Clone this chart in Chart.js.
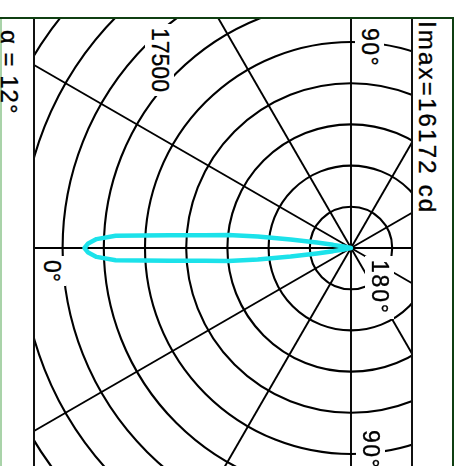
<!DOCTYPE html>
<html lang="en">
<head>
  <meta charset="UTF-8">
  <title>Imax=16172 cd</title>
  <script src="https://cdn.jsdelivr.net/npm/chart.js"></script>
  <style>
    html, body {
      margin: 0;
      padding: 0;
      width: 467px;
      height: 466px;
      overflow: hidden;
      background: #fff;
    }

    .line { position: absolute; }
    .top-line { left: 0; top: 17px; width: 454px; height: 2px; background: #0f3f12; }
    .right-line { left: 452px; top: 17px; width: 2px; height: 449px; background: #0f3f12; }
    .left-line { left: 0; top: 19px; width: 2px; height: 447px; background: #a9d3a9; }

    /* polar plot area, clipped between the two black rules */
    .plot {
      position: absolute;
      left: 33px;
      top: 19px;
      width: 376px;
      height: 447px;
      border-left: 2px solid #111;
      border-right: 2px solid #111;
      overflow: hidden;
    }

    .plot canvas {
      position: absolute;
      left: -96px;
      top: -183px;
    }

    .txt {
      position: absolute;
      writing-mode: vertical-rl;
      font-family: "Liberation Sans", Arial, sans-serif;
      font-size: 23px;
      line-height: 1;
      color: #000;
      white-space: nowrap;
      -webkit-text-stroke: 0.35px #000;
    }

    .bg { background: #fff; padding: 4px 3px; }
  </style>
</head>
<body>
<div class="line top-line"></div>
<div class="line right-line"></div>
<div class="line left-line"></div>

<div class="plot">
  <canvas id="polar" width="824" height="824"></canvas>
</div>

<div class="txt" style="left:415px; top:21px; font-size:24px; letter-spacing:2.2px;">Imax=16172 cd</div>
<div class="txt" style="left:-3px; top:30px; font-size:24px; letter-spacing:1px;">α = 12°</div>
<div class="txt bg" style="left:355px; top:24px; letter-spacing:1.5px;">90°</div>
<div class="txt bg" style="left:365px; top:256px; letter-spacing:1.8px;">180°</div>
<div class="txt bg" style="left:356px; top:426px; letter-spacing:1.5px;">90°</div>
<div class="txt bg" style="left:37px; top:256px;">0°</div>
<div class="txt bg" style="left:145px; top:24px;">17500</div>

<script>
  // intensity rings (cd)
  const ringMax = 25000;
  const ringStep = 2500;

  // luminous intensity of the lobe (degrees from 0°, cd)
  const lobeAngles = [-13, -12, -11, -10, -9, -8, -7, -6, -5, -4, -3, -2, -1, 0,
                      1, 2, 3, 4, 5, 6, 7, 8, 9, 10, 11, 12, 13];
  const lobeCd = [0, 150, 450, 1100, 2100, 3700, 5700, 7500, 8900, 11000, 14300, 15450, 15950, 16172,
                  15950, 15450, 14300, 11000, 8900, 7500, 5700, 3700, 2100, 1100, 450, 150, 0];

  // one category per degree around the circle
  const degrees = [];
  for (let a = 0; a < 360; a++) degrees.push(a);

  const intensity = degrees.map(a => {
    const k = lobeAngles.findIndex(v => (v + 360) % 360 === a);
    return k >= 0 ? lobeCd[k] : 0;
  });

  const ctx = document.getElementById('polar').getContext('2d');
  new Chart(ctx, {
    type: 'radar',
    data: {
      labels: degrees,
      datasets: [{
        data: intensity,
        borderColor: '#1ce2ea',
        borderWidth: 4.5,
        borderJoinStyle: 'round',
        pointRadius: 0,
        fill: false,
        tension: 0
      }]
    },
    options: {
      responsive: false,
      animation: false,
      layout: { padding: 0 },
      plugins: {
        legend: { display: false },
        tooltip: { enabled: false }
      },
      scales: {
        r: {
          min: 0,
          max: ringMax,
          startAngle: 270,
          ticks: { display: false, stepSize: ringStep },
          pointLabels: { display: false },
          grid: { circular: true, color: '#000', lineWidth: 2.1 },
          angleLines: {
            color: '#000',
            lineWidth: c => (c.index % 30 === 0 ? 1.9 : 0)
          }
        }
      }
    }
  });
</script>
</body>
</html>
